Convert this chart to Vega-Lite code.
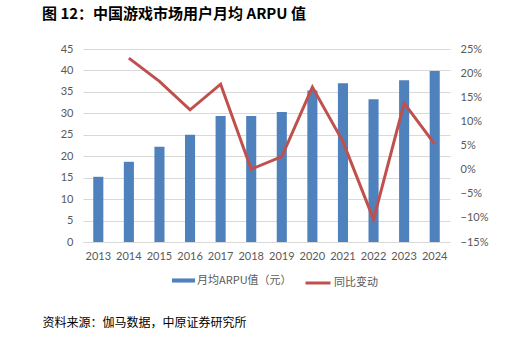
{
  "$schema": "https://vega.github.io/schema/vega-lite/v6.json",
  "width": 367,
  "height": 193,
  "autosize": {"type": "none"},
  "padding": {"left": 83, "top": 49, "right": 68, "bottom": 97},
  "background": "white",
  "title": {
    "text": "图 12：中国游戏市场用户月均 ARPU 值",
    "anchor": "start",
    "frame": "group",
    "dx": -41,
    "offset": 21,
    "fontSize": 15,
    "font": "Noto Sans CJK SC",
    "fontWeight": "bold",
    "color": "#000000"
  },
  "config": {
    "view": {"stroke": null},
    "axis": {"labelFont": "Lato", "labelFontSize": 11, "labelColor": "#595959", "ticks": false, "gridColor": "#d9d9d9", "gridWidth": 1}
  },
  "data": {
    "values": [
      {"year": "2013", "arpu": 15.2, "yoy": null},
      {"year": "2014", "arpu": 18.7, "yoy": 0.231},
      {"year": "2015", "arpu": 22.2, "yoy": 0.183},
      {"year": "2016", "arpu": 25.0, "yoy": 0.124},
      {"year": "2017", "arpu": 29.4, "yoy": 0.177},
      {"year": "2018", "arpu": 29.4, "yoy": 0.001},
      {"year": "2019", "arpu": 30.3, "yoy": 0.027},
      {"year": "2020", "arpu": 35.3, "yoy": 0.171},
      {"year": "2021", "arpu": 37.0, "yoy": 0.058},
      {"year": "2022", "arpu": 33.3, "yoy": -0.103},
      {"year": "2023", "arpu": 37.7, "yoy": 0.138},
      {"year": "2024", "arpu": 39.85, "yoy": 0.053}
    ]
  },
  "encoding": {
    "x": {
      "field": "year",
      "type": "ordinal",
      "scale": {"paddingInner": 0.67, "paddingOuter": 0.335},
      "axis": {
        "labelAngle": 0,
        "labelPadding": 8,
        "domain": true,
        "domainColor": "#d9d9d9",
        "title": "资料来源：伽马数据，中原证券研究所",
        "titleFont": "Noto Sans CJK SC",
        "titleFontSize": 12,
        "titleFontWeight": "normal",
        "titleColor": "#000000",
        "titleAnchor": "start",
        "titleAlign": "left",
        "titleBaseline": "middle",
        "titleX": -41,
        "titleY": 80
      }
    }
  },
  "layer": [
    {
      "mark": {"type": "bar"},
      "encoding": {
        "y": {
          "field": "arpu",
          "type": "quantitative",
          "scale": {"domain": [0, 45]},
          "axis": {"values": [0, 5, 10, 15, 20, 25, 30, 35, 40, 45], "title": null, "domain": false, "labelPadding": 10}
        },
        "fill": {
          "datum": "月均ARPU值（元）",
          "type": "nominal",
          "scale": {"range": ["#4F81BD"]},
          "legend": {
            "title": null,
            "orient": "none",
            "legendX": 89,
            "legendY": 220,
            "symbolType": "M-1,-0.18H1V0.18H-1Z",
            "symbolSize": 529,
            "symbolStrokeWidth": 0,
            "labelFont": "Noto Sans CJK SC",
            "labelFontSize": 11,
            "labelColor": "#595959",
            "labelOffset": 2
          }
        }
      }
    },
    {
      "mark": {"type": "line", "strokeWidth": 3},
      "encoding": {
        "y": {
          "field": "yoy",
          "type": "quantitative",
          "scale": {"domain": [-0.15, 0.25]},
          "axis": {"orient": "right", "format": ".0%", "values": [-0.15, -0.1, -0.05, 0, 0.05, 0.1, 0.15, 0.2, 0.25], "title": null, "grid": false, "domain": false, "labelPadding": 10}
        },
        "stroke": {
          "datum": "同比变动",
          "type": "nominal",
          "scale": {"range": ["#C0504D"]},
          "legend": {
            "title": null,
            "orient": "none",
            "legendX": 221,
            "legendY": 220,
            "symbolType": "stroke",
            "symbolSize": 625,
            "symbolStrokeWidth": 3,
            "labelFont": "Noto Sans CJK SC",
            "labelFontSize": 11,
            "labelColor": "#595959",
            "labelOffset": 2
          }
        }
      }
    }
  ],
  "resolve": {"scale": {"y": "independent"}}
}
